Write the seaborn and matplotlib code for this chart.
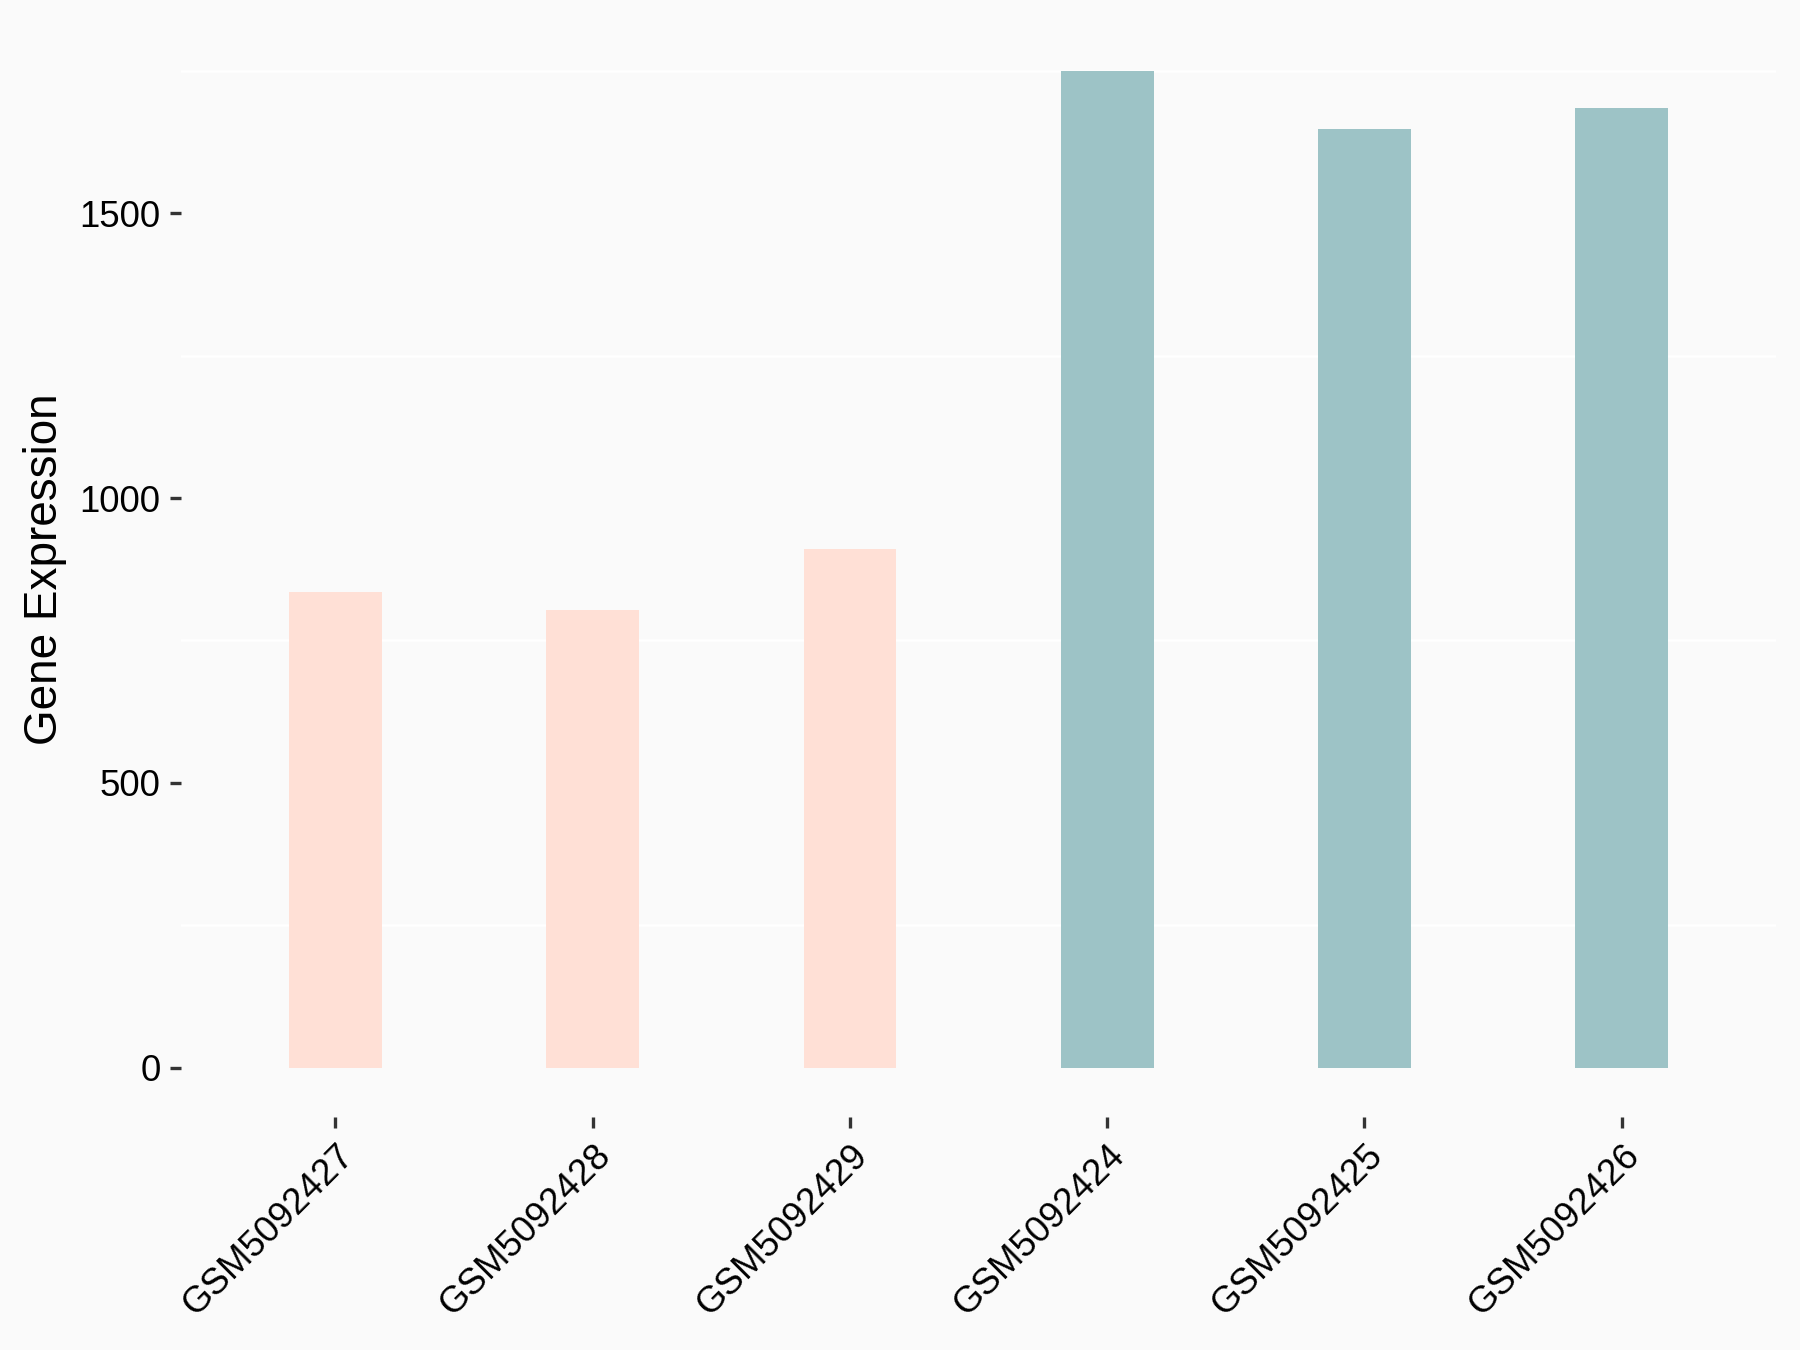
import numpy as np
import pandas as pd
import seaborn as sns
import matplotlib.pyplot as plt
from matplotlib.ticker import FixedLocator

# --------------------------- DATA ---------------------------
samples = ['GSM5092427', 'GSM5092428', 'GSM5092429',
           'GSM5092424', 'GSM5092425', 'GSM5092426']
expression = [835, 804, 911, 1749, 1648, 1685]
groups = ['A', 'A', 'A', 'B', 'B', 'B']
group_colors = {'A': '#FFE0D6', 'B': '#9DC3C6'}

df = pd.DataFrame({'sample': samples, 'expression': expression, 'group': groups})

# --------------------------- SETTINGS ---------------------------
sns.set_theme(style="white")
plt.rcParams['font.family'] = ['Liberation Sans', 'DejaVu Sans']

bg = '#FAFAFA'
fig, ax = plt.subplots(figsize=(6, 4.5), dpi=300)
fig.patch.set_facecolor(bg)
ax.set_facecolor(bg)
fig.subplots_adjust(left=0.1006, right=0.9867, bottom=0.1723, top=0.984)

sns.barplot(data=df, x='sample', y='expression', hue='group',
            palette=group_colors, saturation=1, dodge=False, width=0.36,
            errorbar=None, legend=False, linewidth=0, ax=ax, zorder=3)

ymax = max(expression)
ax.set_ylim(-0.05 * ymax, 1.05 * ymax)
ax.set_xlim(-0.6, len(samples) - 0.4)

ax.yaxis.set_major_locator(FixedLocator([0, 500, 1000, 1500]))
ax.yaxis.set_minor_locator(FixedLocator([250, 750, 1250, 1750]))
ax.grid(False)
ax.grid(which='minor', axis='y', color='white', linewidth=0.6, zorder=1)

for s in ax.spines.values():
    s.set_visible(False)

ax.tick_params(axis='both', which='major', length=2.75, width=0.8,
               color='#333333', labelsize=8.8, labelcolor='black', pad=2.2,
               left=True, bottom=True)
ax.tick_params(axis='y', which='minor', length=0)

plt.setp(ax.get_xticklabels(), rotation=45, ha='right', va='top',
         rotation_mode='anchor')

ax.set_xlabel('')
ax.set_ylabel('Gene Expression', fontsize=11, color='black', labelpad=3)

fig.savefig('out.png', dpi=300, facecolor=bg)
